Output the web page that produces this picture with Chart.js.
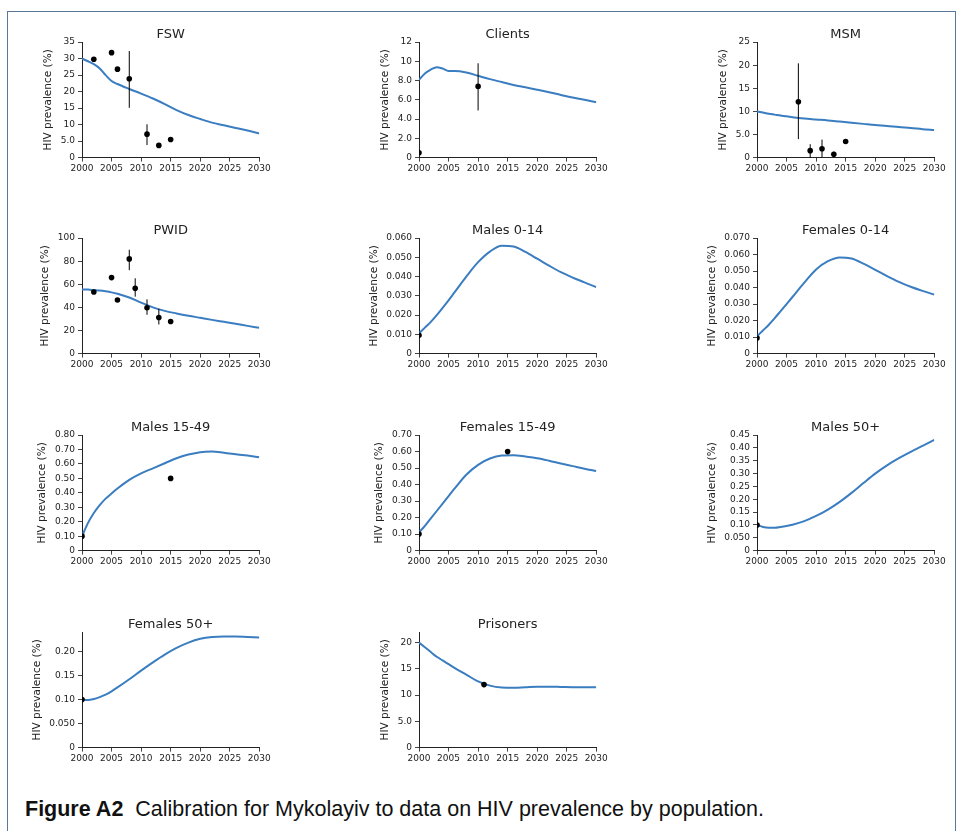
<!DOCTYPE html>
<html>
<head>
<meta charset="utf-8">
<script src="https://cdn.jsdelivr.net/npm/chart.js@4.4.0/dist/chart.umd.min.js"></script>
<style>
  html, body { margin: 0; padding: 0; background: #fff; }
  body { width: 956px; height: 831px; position: relative; overflow: hidden; }
  #frame { position: absolute; left: 7px; top: 11px; width: 947px; height: 830px; border: 1px solid #5a7898; border-bottom: none; }
  .panel { position: absolute; }
  #caption { position: absolute; left: 25px; top: 797px; font-family: 'Liberation Sans', sans-serif; font-size: 21.5px; color: #111; white-space: nowrap; }
</style>
</head>
<body>
<div id="frame"></div>
<div id="charts"></div>
<div id="caption"><b>Figure A2</b>&nbsp; Calibration for Mykolayiv to data on HIV prevalence by population.</div>
<script>
// Anos do modelo (mesmos para todas as curvas)
const modelYears = [2000, 2001, 2002, 2003, 2004, 2005, 2006, 2008, 2010, 2012, 2014, 2016, 2018, 2020, 2022, 2024, 2026, 2028, 2030];

// --- FSW ---
const fswModel = [30.0, 29.2, 28.3, 27.0, 25.0, 23.2, 22.3, 20.8, 19.4, 17.9, 16.2, 14.4, 12.9, 11.7, 10.6, 9.8, 9.0, 8.2, 7.3];
const fswYears = [2002, 2005, 2006, 2008, 2011, 2013, 2015];
const fswValues = [29.8, 31.8, 26.8, 23.9, 7.1, 3.7, 5.5];
const fswErrYears = [2008, 2011];
const fswErrLow = [15.1, 3.8];
const fswErrHigh = [32.3, 10.1];

// --- Clients ---
const clientsModel = [8.07, 8.75, 9.15, 9.4, 9.25, 9.0, 9.0, 8.85, 8.5, 8.15, 7.85, 7.55, 7.3, 7.05, 6.8, 6.5, 6.25, 6.0, 5.75];
const clientsYears = [2000, 2010];
const clientsValues = [0.5, 7.4];
const clientsErrYears = [2010];
const clientsErrLow = [4.9];
const clientsErrHigh = [9.8];

// --- MSM ---
const msmModel = [10.0, 9.75, 9.5, 9.3, 9.1, 8.95, 8.75, 8.45, 8.25, 8.05, 7.8, 7.55, 7.3, 7.05, 6.85, 6.6, 6.4, 6.15, 5.95];
const msmYears = [2007, 2009, 2011, 2013, 2015];
const msmValues = [12.1, 1.5, 1.9, 0.7, 3.5];
const msmErrYears = [2007, 2009, 2011, 2013];
const msmErrLow = [4.0, 0, 0, 0.2];
const msmErrHigh = [20.4, 2.9, 3.9, 1.3];

// --- PWID ---
const pwidModel = [55.5, 55.4, 55.0, 54.6, 53.9, 53.0, 51.8, 48.6, 44.2, 40.0, 37.0, 34.8, 32.8, 31.0, 29.2, 27.5, 25.8, 24.0, 22.3];
const pwidYears = [2002, 2005, 2006, 2008, 2009, 2011, 2013, 2015];
const pwidValues = [53.3, 65.8, 46.4, 82.0, 56.5, 39.7, 31.3, 27.8];
const pwidErrYears = [2008, 2009, 2011, 2013];
const pwidErrLow = [72.2, 49.3, 33.6, 25.2];
const pwidErrHigh = [89.9, 65.2, 47.0, 38.8];

// --- Males 0-14 ---
const males014Model = [0.0105, 0.0135, 0.0165, 0.0200, 0.0238, 0.0277, 0.0318, 0.0400, 0.0475, 0.0530, 0.0560, 0.0556, 0.0528, 0.0493, 0.0457, 0.0423, 0.0395, 0.0370, 0.0345];
const males014Years = [2000];
const males014Values = [0.0095];

// --- Females 0-14 ---
const females014Model = [0.0105, 0.0140, 0.0175, 0.0215, 0.0258, 0.0300, 0.0343, 0.0430, 0.0510, 0.0560, 0.0583, 0.0576, 0.0545, 0.0508, 0.0470, 0.0435, 0.0405, 0.0380, 0.0358];
const females014Years = [2000];
const females014Values = [0.0095];

// --- Males 15-49 ---
const males1549Model = [0.10, 0.19, 0.26, 0.315, 0.36, 0.395, 0.43, 0.49, 0.535, 0.57, 0.605, 0.64, 0.665, 0.682, 0.686, 0.678, 0.668, 0.658, 0.647];
const males1549Years = [2000, 2015];
const males1549Values = [0.10, 0.50];

// --- Females 15-49 ---
const females1549Model = [0.11, 0.15, 0.195, 0.24, 0.285, 0.33, 0.375, 0.46, 0.52, 0.558, 0.576, 0.578, 0.57, 0.56, 0.545, 0.528, 0.512, 0.496, 0.482];
const females1549Years = [2000, 2015];
const females1549Values = [0.10, 0.60];

// --- Males 50+ ---
const males50Model = [0.100, 0.092, 0.089, 0.089, 0.092, 0.096, 0.101, 0.115, 0.135, 0.160, 0.190, 0.225, 0.263, 0.300, 0.332, 0.360, 0.385, 0.408, 0.431];
const males50Years = [2000];
const males50Values = [0.10];

// --- Females 50+ ---
const females50Model = [0.100, 0.099, 0.101, 0.105, 0.110, 0.117, 0.125, 0.142, 0.160, 0.177, 0.193, 0.207, 0.218, 0.226, 0.230, 0.231, 0.231, 0.230, 0.229];
const females50Years = [2000];
const females50Values = [0.10];

// --- Prisoners ---
const prisonersModel = [20.0, 19.1, 18.2, 17.3, 16.6, 15.9, 15.2, 13.9, 12.6, 11.8, 11.45, 11.4, 11.5, 11.6, 11.6, 11.55, 11.5, 11.5, 11.5];
const prisonersYears = [2011];
const prisonersValues = [12.0];

// Painéis na ordem da figura (3 colunas)
const panels = [
    { title: 'FSW', model: fswModel, years: fswYears, values: fswValues, errYears: fswErrYears, errLow: fswErrLow, errHigh: fswErrHigh, yMax: 35, yStep: 5 },
    { title: 'Clients', model: clientsModel, years: clientsYears, values: clientsValues, errYears: clientsErrYears, errLow: clientsErrLow, errHigh: clientsErrHigh, yMax: 12, yStep: 2 },
    { title: 'MSM', model: msmModel, years: msmYears, values: msmValues, errYears: msmErrYears, errLow: msmErrLow, errHigh: msmErrHigh, yMax: 25, yStep: 5 },
    { title: 'PWID', model: pwidModel, years: pwidYears, values: pwidValues, errYears: pwidErrYears, errLow: pwidErrLow, errHigh: pwidErrHigh, yMax: 100, yStep: 20 },
    { title: 'Males 0-14', model: males014Model, years: males014Years, values: males014Values, yMax: 0.06, yStep: 0.01 },
    { title: 'Females 0-14', model: females014Model, years: females014Years, values: females014Values, yMax: 0.07, yStep: 0.01 },
    { title: 'Males 15-49', model: males1549Model, years: males1549Years, values: males1549Values, yMax: 0.8, yStep: 0.1 },
    { title: 'Females 15-49', model: females1549Model, years: females1549Years, values: females1549Values, yMax: 0.7, yStep: 0.1 },
    { title: 'Males 50+', model: males50Model, years: males50Years, values: males50Values, yMax: 0.45, yStep: 0.05 },
    { title: 'Females 50+', model: females50Model, years: females50Years, values: females50Values, yMax: 0.24, yStep: 0.05 },
    { title: 'Prisoners', model: prisonersModel, years: prisonersYears, values: prisonersValues, yMax: 22, yStep: 5 }
];

// Geometria da grade de painéis (área de plotagem alvo)
const colLeft = [81.7, 419.3, 756.7];
const rowTop = [41.7, 238.5, 435.3, 631.7];
const plotW = 177.3, plotH = 115.5;
const yAxisW = 80, xAxisH = 22;
const titleH = 13 * 1.2 + 10.5 + 0;

const FONT = "'DejaVu Sans', sans-serif";
const INK = '#222';
const LINE_BLUE = '#3a7dc0';

function fmtTick(v) {
    if (v === 0) return '0';
    if (Math.abs(v) >= 10) return String(Math.round(v));
    return Number(v).toPrecision(2);
}

// Mantém o título do eixo Y junto dos rótulos (como na largura natural do eixo)
const yTitleShift = {
    id: 'yTitleShift',
    afterLayout(chart) {
        const s = chart.scales.y;
        if (s.$naturalWidth) s.left = s.right - s.$naturalWidth;
    }
};

function errorBarPoints(p) {
    const pts = [];
    (p.errYears || []).forEach((yr, i) => {
        pts.push({ x: yr, y: p.errLow[i] });
        pts.push({ x: yr, y: p.errHigh[i] });
        pts.push({ x: yr, y: null });
    });
    return pts;
}

function renderPanel(p, idx) {
    const col = idx % 3, row = Math.floor(idx / 3);
    const W = Math.ceil(yAxisW + plotW + 20);
    const H = Math.ceil(titleH + plotH + xAxisH);

    const wrap = document.createElement('div');
    wrap.className = 'panel';
    const canvas = document.createElement('canvas');
    canvas.width = W;
    canvas.height = H;
    canvas.style.width = W + 'px';
    canvas.style.height = H + 'px';
    wrap.appendChild(canvas);
    document.getElementById('charts').appendChild(wrap);

    const chart = new Chart(canvas.getContext('2d'), {
        type: 'scatter',
        data: {
            datasets: [
                {
                    label: 'Data',
                    data: p.years.map((yr, i) => ({ x: yr, y: p.values[i] })),
                    backgroundColor: '#000',
                    borderColor: '#000',
                    pointRadius: 2.8,
                    pointBorderWidth: 0,
                    order: 0
                },
                {
                    label: 'Error',
                    data: errorBarPoints(p),
                    showLine: true,
                    spanGaps: false,
                    borderColor: '#000',
                    borderWidth: 1,
                    pointRadius: 0,
                    order: 1
                },
                {
                    label: 'Model',
                    data: modelYears.map((yr, i) => ({ x: yr, y: p.model[i] })),
                    showLine: true,
                    borderColor: LINE_BLUE,
                    borderWidth: 2,
                    pointRadius: 0,
                    cubicInterpolationMode: 'monotone',
                    order: 2
                }
            ]
        },
        options: {
            responsive: false,
            animation: false,
            devicePixelRatio: 1,
            layout: { padding: { left: 0, top: 0, right: W - yAxisW - plotW, bottom: H - titleH - plotH - xAxisH } },
            plugins: {
                legend: { display: false },
                tooltip: { enabled: false },
                title: {
                    display: true, text: p.title, fullSize: false,
                    font: { family: FONT, size: 13, weight: 'normal' }, color: INK,
                    padding: { top: 10.5, bottom: 0 }
                }
            },
            scales: {
                x: {
                    type: 'linear', min: 2000, max: 2030,
                    grid: { display: true, drawOnChartArea: false, drawTicks: true, tickLength: 4, color: '#444' },
                    border: { display: true, color: INK, width: 1 },
                    ticks: { stepSize: 5, padding: 2, maxRotation: 0, autoSkip: false, font: { family: FONT, size: 9 }, color: INK, callback: v => String(v) },
                    afterFit: s => { s.height = xAxisH; }
                },
                y: {
                    type: 'linear', min: 0, max: p.yMax,
                    grid: { display: true, drawOnChartArea: false, drawTicks: true, tickLength: 4, color: '#444' },
                    border: { display: true, color: INK, width: 1 },
                    ticks: { stepSize: p.yStep, includeBounds: false, padding: 3, autoSkip: false, font: { family: FONT, size: 9 }, color: INK, callback: v => fmtTick(v) },
                    title: { display: true, text: 'HIV prevalence (%)', font: { family: FONT, size: 10.5 }, color: INK, padding: { top: 0, bottom: 3 } },
                    afterFit: s => { s.$naturalWidth = s.width; s.width = yAxisW; }
                }
            }
        },
        plugins: [yTitleShift]
    });
    chart.draw();

    // Posiciona o painel para que a área do gráfico caia no lugar certo
    const ca = chart.chartArea;
    wrap.style.left = (colLeft[col] - ca.left) + 'px';
    wrap.style.top = (rowTop[row] - ca.top) + 'px';
}

panels.forEach(renderPanel);
</script>
</body>
</html>
